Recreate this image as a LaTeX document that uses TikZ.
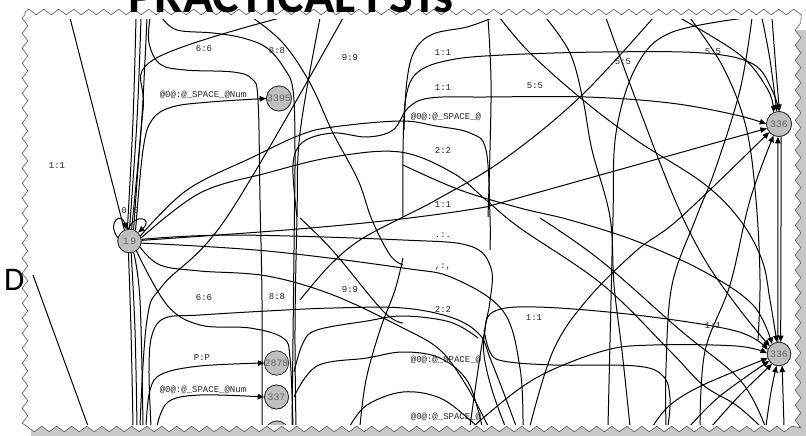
\documentclass[tikz,border=0pt]{standalone}
\usepackage{fontspec}
\setmonofont{Liberation Mono}
\newfontfamily\titlefont{Carlito}
\usetikzlibrary{arrows.meta,decorations.pathmorphing}
\begin{document}
\begin{tikzpicture}[x=1pt,y=-1pt,
  ed/.style={line width=1pt, black},
  ar/.style={ed, -{Triangle[length=6.5pt,width=5.5pt]}},
  lb/.style={font=\fontsize{9}{9}\ttfamily, text=black!85, inner sep=0pt},
  st/.style={circle, draw=black!85, line width=0.7pt, fill=black!25, inner sep=0pt, minimum size=23.5pt, font=\fontsize{9.8}{9.8}\ttfamily, text=black!60},
  sm/.style={smooth, tension=0.6}]
\useasboundingbox (0,0) rectangle (806,436);
% shadow and paper
\fill[black!22] (31,30) rectangle (812,442);
\filldraw[fill=white, draw=black!65, line width=0.6pt, decorate,
  decoration={zigzag, segment length=15pt, amplitude=2.8pt}]
  (25,12) -- (798,12) -- (798,429) -- (25,429) -- cycle;
\begin{scope}
\clip (32,20) rectangle (793,424);
% nodes (positions)
\node[st] (n19) at (129.5,241) {};
\node[st, minimum size=25pt] (n3395) at (279,98.5) {};
\node[st, minimum size=25pt] (nA) at (779,124) {};
\node[st] (nB) at (779,354) {};
\node[st] (n2878) at (276.5,363) {};
\node[st, minimum size=24pt] (n337) at (276.5,397) {};
\node[st, minimum size=24pt] (nC) at (277,433) {};
% ---------- edges, upper left
\draw[ed] (n19.115) -- (70,18);
\draw[ed] plot[sm] coordinates {(n19.100) (133,120) (136,18)};
\draw[ed] plot[sm] coordinates {(n19.90) (137,120) (141,18)};
\draw[ed] plot[sm] coordinates {(n19.80) (141,130) (145,60) (147,18)};
\draw[ed] plot[sm] coordinates {(n19.70) (143,110) (153,60) (280,18)};
\draw[ar] plot[sm] coordinates {(n19.60) (143,150) (152,120) (172,107) (210,102) (n3395.west)};
\draw[ed] plot[sm] coordinates {(150,18) (149,43) (160,64) (185,70) (233,72) (252,79) (258,100) (260,200) (262,300) (262,426)};
\draw[ed] plot[sm] coordinates {(162,18) (177,30) (213,33) (243,38) (267,48) (284,68) (293,90) (295,150) (294,250) (292,426)};
\draw[ed] plot[sm] coordinates {(343,18) (227,217) (163,285) (147,320) (140,426)};
\draw[ed] plot[sm] coordinates {(320,18) (300,133) (297,217) (295,330) (296,426)};
\draw[ed] plot[sm] coordinates {(253,18) (283,43) (310,83) (333,133) (358,180) (372,220) (390,255) (403,265)};
\draw[ed] plot[sm] coordinates {(n19.25) (187,190) (253,157) (300,135) (333,127) (400,121) (436,126) (470,133) (486,150) (490,217) (490,250)};
\draw[ed] plot[sm] coordinates {(n19.15) (200,193) (267,173) (333,157) (400,152) (453,173) (486,200) (520,228) (603,285) (670,351) (703,385) (736,405) (760,426)};
% ---------- upper right
\draw[ar] plot[sm] coordinates {(297,217) (293,165) (303,142) (333,133) (367,137) (393,130) (408,108) (430,98) (486,97) (586,97) (670,103) (736,115) (nA.west)};
\draw[ar] plot[sm] coordinates {(403,217) (403,150) (406,97) (418,72) (450,60) (503,55) (603,52) (703,53) (753,64) (772,90) (nA.north)};
\draw[ed] plot[sm] coordinates {(404,130) (407,80) (415,50) (433,34) (467,27) (492,18)};
\draw[ed] plot[sm] coordinates {(488,18) (491,80) (490,150) (488,217)};
\draw[ar] plot[sm] coordinates {(500,18) (530,53) (583,100) (636,140) (703,183) (740,220) (762,260) (770,300) (nB.100)};
\draw[ed] plot[sm] coordinates {(653,18) (580,97) (503,160) (436,200) (403,217) (360,240) (330,265) (300,300)};
\draw[ed] plot[sm] coordinates {(546,18) (570,53) (583,100) (592,150) (610,217) (614,285) (622,351) (630,426)};
\draw[ar] plot[sm] coordinates {(606,18) (636,100) (675,200) (705,260) (740,310) (nB.140)};
\draw[ed] plot[sm] coordinates {(745,18) (670,33) (636,67) (616,133) (613,217) (611,300) (608,426)};
\draw[ed] plot[sm] coordinates {(690,18) (723,67) (746,127) (756,200) (760,280) (758,340)};
\draw[ar] plot[sm] coordinates {(680,18) (740,55) (768,90) (nA.115)};
\draw[ar] plot[sm] coordinates {(762,18) (770,60) (nA.100)};
\draw[ar] plot[sm] coordinates {(772,18) (776,70) (nA.88)};
\draw[ed] plot[sm] coordinates {(752,18) (740,90) (715,170) (696,218) (672,285) (666,368) (666,426)};
\draw[ar] plot[sm] coordinates {(530,426) (553,351) (586,301) (636,251) (680,218) (nA.220)};
\draw[ar] plot[sm] coordinates {(700,426) (705,351) (730,285) (750,200) (nA.245)};
\draw[ar] (n19.3) .. controls (260,232) and (380,225) .. (486,207) -- (nA.200);
\draw[ar] (nB.95) -- (nA.265);
\draw[ar] (nA.280) -- (nB.82);
\draw[ar] plot[sm] coordinates {(766,426) (771,392) (nB.258)};
\draw[ar] plot[sm] coordinates {(784,426) (nB.285)};
% ---------- lower left
\draw[ed] plot[sm] coordinates {(n19.265) (131,330) (133,426)};
\draw[ed] plot[sm] coordinates {(n19.278) (135,330) (137,426)};
\draw[ed] plot[sm] coordinates {(n19.290) (140,300) (143,426)};
\draw[ed] plot[sm] coordinates {(n19.8) (233,235) (403,240) (470,246) (491,268) (490,301) (485,328) (484,355) (492,390) (505,426)};
\draw[ed] plot[sm] coordinates {(n19.350) (267,251) (403,268) (453,278) (503,311) (520,368) (523,426)};
\draw[ed] plot[sm] coordinates {(n19.330) (160,265) (200,271) (267,276) (333,295) (403,328) (440,350) (466,385) (488,426)};
\draw[ed] plot[sm] coordinates {(n19.305) (167,305) (200,325) (250,328) (283,338) (290,358) (293,426)};
\draw[ed] plot[sm] coordinates {(151,426) (149,370) (152,335) (165,318) (200,315) (267,311) (333,308) (403,308) (453,318) (480,335) (490,358) (503,391) (516,426)};
\draw[ar] plot[sm] coordinates {(146,426) (150,390) (162,374) (200,366) (n2878.west)};
\draw[ar] plot[sm] coordinates {(157,426) (168,402) (200,395) (n337.west)};
\draw[ed] (33,275) -- (88,426);
\draw[ed] plot[sm] coordinates {(294,372) (303,343) (317,330) (367,321) (403,316) (450,322) (478,338)};
\draw[ed] plot[sm] coordinates {(294,397) (317,366) (367,358) (403,352) (440,358) (468,382) (482,426)};
\draw[ed] plot[sm] coordinates {(300,218) (333,251) (383,311) (403,323)};
\draw[ed] plot[sm] coordinates {(350,426) (367,405) (403,392) (440,398) (470,420) (480,430)};
\draw[ed] plot[sm] coordinates {(403,258) (395,290) (380,330) (366,380) (360,426)};
% ---------- lower right
\draw[ar] plot[sm] coordinates {(470,426) (478,370) (484,335) (493,312) (536,307) (636,315) (736,331) (nB.160)};
\draw[ed] plot[sm] coordinates {(484,330) (490,352) (503,361) (553,365) (636,366) (663,376) (670,398) (668,426)};
\draw[ar] plot[sm] coordinates {(470,432) (483,418) (536,378) (603,351) (653,345) (736,346) (nB.176)};
\draw[ar] plot[sm] coordinates {(403,165) (460,190) (520,208) (570,220) (636,241) (703,271) (753,305) (nB.125)};
\draw[ed] plot[sm] coordinates {(540,218) (600,260) (680,330) (740,380) (765,426)};
\draw[ar] plot[sm] coordinates {(653,426) (670,405) (703,385) (nB.200)};
\draw[ar] plot[sm] coordinates {(690,426) (720,396) (nB.215)};
\draw[ar] plot[sm] coordinates {(712,426) (740,395) (nB.235)};
% self loops
\draw[ar] (n19.165) .. controls (106,221) and (122,212) .. (n19.105);
\draw[ar] (n19.95) .. controls (135,212) and (154,219) .. (n19.45);
% redraw nodes on top
\node[st] at (n19) {1\,9};
\node[st, minimum size=25pt] at (n3395) {3395};
\node[st, minimum size=25pt] at (nA) {336};
\node[st] at (nB) {336};
\node[st] at (n2878) {2878};
\node[st, minimum size=24pt] at (n337) {337};
\node[st, minimum size=24pt] at (nC) {};
% labels
\node[lb] (l1) at (57,166) {1:1};
\node[lb] (l2) at (204,49) {6:6};
\node[lb] (l3) at (277,51) {8:8};
\node[lb] (l4) at (350,58) {9:9};
\node[lb] (l5) at (203,95) {@0@:@\_SPACE\_@Num};
\node[lb] (l6) at (124,211) {0};
\node[lb] (l7) at (136,211) {0};
\node[lb] (l8) at (443,53) {1:1};
\node[lb] (l9) at (443,88) {1:1};
\node[lb] (l10) at (535,86) {5:5};
\node[lb] (l11) at (623,62) {5:5};
\node[lb] (l12) at (713,52) {5:5};
\node[lb] (l13) at (446,117) {@0@:@\_SPACE\_@};
\node[lb] (l14) at (443,150) {2:2};
\node[lb] (l15) at (443,205) {1:1};
\node[lb] (l16) at (443,235) {.:.};
\node[lb] (l17) at (443,267) {,:,};
\node[lb] (l18) at (443,309) {2:2};
\node[lb] (l19) at (534,318) {1:1};
\node[lb] (l20) at (713,326) {1:1};
\node[lb] (l21) at (446,360) {@0@:@\_SPACE\_@};
\node[lb] (l22) at (446,417) {@0@:@\_SPACE\_@};
\node[lb] (l23) at (204,298) {6:6};
\node[lb] (l24) at (277,297) {8:8};
\node[lb] (l25) at (350,290) {9:9};
\node[lb] (l26) at (202,358) {P:P};
\node[lb] (l27) at (203,390) {@0@:@\_SPACE\_@Num};
\end{scope}
% title and side letter
\node[anchor=base, inner sep=0pt, font=\titlefont\bfseries\fontsize{50}{50}\selectfont] (title) at (291,13) {PRACTICAL FSTs};
\node[anchor=base west, inner sep=0pt, font=\titlefont\fontsize{33}{33}\selectfont] (dd) at (4,290) {D};
\end{tikzpicture}
\end{document}
